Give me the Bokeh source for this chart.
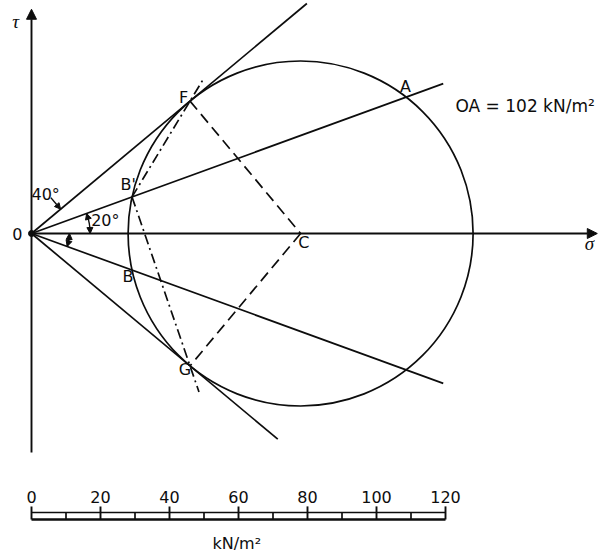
import math
from bokeh.plotting import figure
from bokeh.models import Arrow, NormalHead, Range1d
from bokeh.embed import file_html
from bokeh.resources import INLINE
from bokeh.core.properties import value

# ---- construction values (drawing units = kN/m^2 of the scale bar) ----
centre_sigma = 78.0          # C on the sigma axis
radius = 50.0                # Mohr circle radius
line_angles = [20, -20]      # lines OA (through B') and OB (deg)
line_lengths = [127, 127]
envelope_lengths = [104, 93] # tangent lines OF (upper) and OG (lower)
dashdot_ext = [7, 8]         # dash-dot lines B'F and B'G extended beyond F and G
sigma_axis_end = 164
tau_axis_top = 65.0
tau_axis_bottom = -63.5
arc_radii = [17, 11]         # small angle marks (20 deg above, 20 deg below)

scale_minor = [10, 30, 50, 70, 90, 110]
scale_major = [0, 20, 40, 60, 80, 100, 120]
scale_labels = ["0", "20", "40", "60", "80", "100", "120"]
scale_unit = "kN/m²"
oa_text = "OA = 102 kN/m²"

# ---- geometry derived from the construction ----
phi = math.degrees(math.asin(radius / centre_sigma))
t_tan = math.sqrt(centre_sigma ** 2 - radius ** 2)
F = (t_tan * math.cos(math.radians(phi)), t_tan * math.sin(math.radians(phi)))
G = (F[0], -F[1])
a = math.radians(line_angles[0])
root = math.sqrt(radius ** 2 - (centre_sigma * math.sin(a)) ** 2)
t_b = centre_sigma * math.cos(a) - root
t_a = centre_sigma * math.cos(a) + root
Bp = (t_b * math.cos(a), t_b * math.sin(a))
B = (Bp[0], -Bp[1])
A = (t_a * math.cos(a), t_a * math.sin(a))


def extend(p0, p1, ext):
    dx, dy = p1[0] - p0[0], p1[1] - p0[1]
    L = math.hypot(dx, dy)
    return (p1[0] + dx / L * ext, p1[1] + dy / L * ext)


F_ext = extend(Bp, F, dashdot_ext[0])
G_ext = extend(Bp, G, dashdot_ext[1])

K = 3.45  # px per unit
W, H = 601, 554
x0 = -31 / K
y1 = 233 / K
p = figure(width=W, height=H, x_range=Range1d(x0, x0 + W / K), y_range=Range1d(y1 - H / K, y1),
           output_backend="svg", toolbar_location=None, x_axis_type=None, y_axis_type=None,
           min_border=0, min_border_left=0, min_border_right=0, min_border_top=0, min_border_bottom=0)
p.outline_line_color = None
p.background_fill_color = "white"
p.border_fill_color = "white"

ink = "#0d0d0d"
lw = 1.7

# axes
p.add_layout(Arrow(x_start=0, y_start=0, x_end=sigma_axis_end, y_end=0, line_color=ink, line_width=1.9,
                   end=NormalHead(size=10, fill_color=ink, line_color=ink, line_width=1)))
p.add_layout(Arrow(x_start=0, y_start=tau_axis_bottom, x_end=0, y_end=tau_axis_top, line_color=ink, line_width=1.9,
                   end=NormalHead(size=10, fill_color=ink, line_color=ink, line_width=1)))

# rays from origin
p.ray(x=[0, 0, 0, 0], y=[0, 0, 0, 0],
      length=[envelope_lengths[0], line_lengths[0], line_lengths[1], envelope_lengths[1]],
      angle=[phi, line_angles[0], line_angles[1], -phi], angle_units="deg",
      line_color=ink, line_width=lw)

# Mohr circle
p.circle(x=[centre_sigma], y=[0], radius=radius, fill_color=None, line_color=ink, line_width=lw)

# dashed radii F-C and C-G
p.segment(x0=[F[0], centre_sigma], y0=[F[1], 0], x1=[centre_sigma, G[0]], y1=[0, G[1]],
          line_color=ink, line_width=lw, line_dash="11 6")

# dash-dot lines from pole B'
p.segment(x0=[Bp[0], Bp[0]], y0=[Bp[1], Bp[1]], x1=[F_ext[0], G_ext[0]], y1=[F_ext[1], G_ext[1]],
          line_color=ink, line_width=lw, line_dash="10 4 2 4")

# origin dot
p.scatter(x=[0], y=[0], size=6, color=ink)

# angle arcs
p.arc(x=[0, 0], y=[0, 0], radius=arc_radii,
      start_angle=[0, math.radians(line_angles[1])], end_angle=[math.radians(line_angles[0]), 0],
      line_color=ink, line_width=1.4)


def arc_pt(r, deg):
    return (r * math.cos(math.radians(deg)), r * math.sin(math.radians(deg)))


for r, (lo, hi) in zip(arc_radii, [(0, line_angles[0]), (line_angles[1], 0)]):
    for frm, to in [((lo + hi) / 2, hi), ((lo + hi) / 2, lo)]:
        s = arc_pt(r, to + (frm - to) * 0.5)
        e = arc_pt(r, to)
        p.add_layout(Arrow(x_start=s[0], y_start=s[1], x_end=e[0], y_end=e[1], line_color=ink, line_width=1.3,
                           end=NormalHead(size=6, fill_color=ink, line_color=ink, line_width=1)))

# 40 deg pointer
tip = arc_pt(11, phi)
p.add_layout(Arrow(x_start=5.6, y_start=10.4, x_end=tip[0], y_end=tip[1], line_color=ink, line_width=1.5,
                   end=NormalHead(size=6, fill_color=ink, line_color=ink, line_width=1)))

# labels
sans = value("DejaVu Sans")
p.text(x=[44.1, 28.0, 108.4, 28.0, 44.5, -4.1], y=[39.4, 14.2, 42.5, -12.6, -39.3, 0],
       text=["F", "B'", "A", "B", "G", "0"], text_font=sans, text_font_size="16px",
       text_align="center", text_baseline="middle", text_color=ink)
p.text(x=[77.3], y=[-2.6], text=["C"], text_font=sans, text_font_size="16px",
       text_align="left", text_baseline="middle", text_color=ink)
p.text(x=[4.1, 21.4], y=[11.3, 3.8], text=["40°", "20°"], text_font=sans, text_font_size="16px",
       text_align="center", text_baseline="middle", text_color=ink)
p.text(x=[122.9], y=[37.0], text=[oa_text], text_font=sans, text_font_size="17px",
       text_align="left", text_baseline="middle", text_color=ink)
serif = value("Liberation Serif")
p.text(x=[-4.6, 161.7], y=[61.5, -2.9], text=["τ", "σ"], text_font=serif, text_font_size="19px",
       text_font_style="italic", text_align="center", text_baseline="middle", text_color=ink)

# scale bar
bar_top, bar_bot, major_top = -80.9, -82.9, -79.1
p.segment(x0=[scale_major[0]], y0=[bar_top], x1=[scale_major[-1]], y1=[bar_top], line_color=ink, line_width=1.5)
p.segment(x0=[scale_major[0]], y0=[bar_bot], x1=[scale_major[-1]], y1=[bar_bot], line_color=ink, line_width=2.3)
p.segment(x0=scale_minor, y0=[bar_top] * len(scale_minor), x1=scale_minor, y1=[bar_bot] * len(scale_minor),
          line_color=ink, line_width=1.7)
p.segment(x0=scale_major, y0=[major_top] * len(scale_major), x1=scale_major, y1=[bar_bot] * len(scale_major),
          line_color=ink, line_width=1.9)
p.text(x=scale_major, y=[-76.5] * len(scale_major), text=scale_labels, text_font=sans, text_font_size="16px",
       text_align="center", text_baseline="middle", text_color=ink)
p.text(x=[59.5], y=[-89.9], text=[scale_unit], text_font=sans, text_font_size="16px",
       text_align="center", text_baseline="middle", text_color=ink)

open("out.html", "w").write(file_html(p, INLINE))
